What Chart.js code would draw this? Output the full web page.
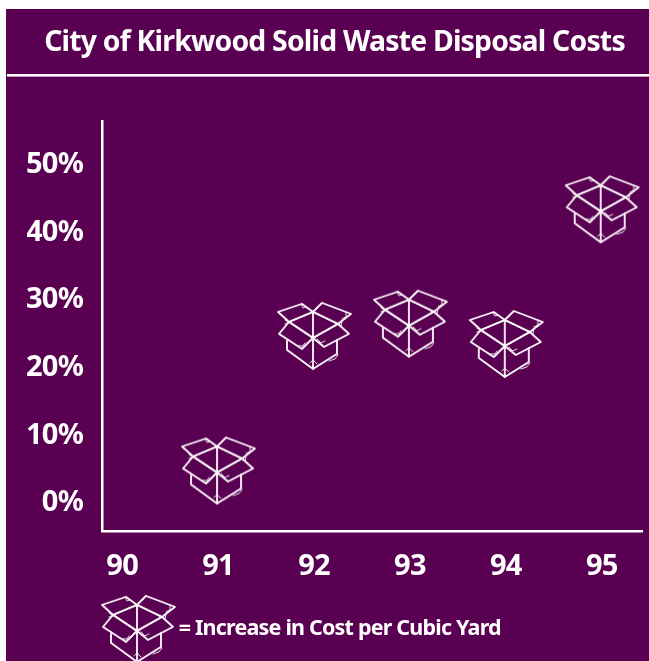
<!DOCTYPE html>
<html><head><meta charset="utf-8">
<script src="https://cdn.jsdelivr.net/npm/chart.js@4/dist/chart.umd.min.js"></script>
<style>
html,body{margin:0;padding:0;background:#fff;overflow:hidden}
#panel{position:absolute;left:6px;top:9px;width:643px;height:652px;background:#5a0052;overflow:hidden}
canvas{display:block}
</style></head><body>
<div id="panel"><canvas id="c" width="657" height="652"></canvas></div>
<script>
const years=[90,91,92,93,94,95];
const costIncrease=[null,4.5,24.4,26.2,23.2,43.1];
const yTicks=[0,10,20,30,40,50];
const titleText='City of Kirkwood Solid Waste Disposal Costs';
const legendText='= Increase in Cost per Cubic Yard';
const FONT='"Noto Sans",sans-serif';

function boxIcon(w,h){
  const cv=document.createElement('canvas');cv.width=w;cv.height=h;
  const g=cv.getContext('2d');const X=x=>(x+1)/100*w,Y=y=>y/90*h;
  g.strokeStyle='#fff';g.lineWidth=1.8;g.lineJoin='round';g.lineCap='round';
  const poly=(p,close)=>{g.beginPath();p.forEach((q,i)=>i?g.lineTo(X(q[0]),Y(q[1])):g.moveTo(X(q[0]),Y(q[1])));if(close)g.closePath();g.stroke();};
  poly([[13,21],[37,13],[48,21],[24,31]],true);
  poly([[48,21],[57,12],[86,23],[73,33]],true);
  poly([[24,31],[14,43],[37,58],[48,47]],true);
  poly([[73,33],[84,43],[59,56],[48,47]],true);
  poly([[24,31],[48,21],[73,33],[48,47]],true);
  poly([[22,50],[22,59],[48,78],[72,63],[72,49]],false);
  poly([[48,21],[48,78]],false);
  g.lineWidth=0.9;
  poly([[36,13],[38,17],[41,16]],false);
  poly([[81,21],[81,26],[77,28]],false);
  poly([[20,29],[24,32],[20,33]],false);
  poly([[73,33],[76,35],[77,31]],false);
  poly([[52,48],[56,52],[60,50]],false);
  poly([[33,55],[38,55],[40,52]],false);
  poly([[45,72],[48,69],[52,73]],false);
  poly([[64,70],[70,68],[73,64]],false);
  return cv;
}
const markIcon=boxIcon(100,90);
const blank=document.createElement('canvas');blank.width=1;blank.height=1;

const rule={id:'rule',
  beforeDraw(c){const g=c.ctx;g.letterSpacing='-0.8px';g.save();g.fillStyle='#fff';g.fillRect(1,65,660,2.6);g.restore();},
  afterDraw(c){const hb=c.legend.legendHitBoxes[0];
    c.ctx.drawImage(markIcon,hb.left+30-50,hb.top+hb.height/2-45);}
};

new Chart(document.getElementById('c'),{
  type:'line',
  data:{datasets:[{label:legendText,
    data:years.map((y,i)=>({x:y,y:costIncrease[i]})),
    showLine:false,pointStyle:markIcon,pointRadius:36,pointHoverRadius:36,
    borderColor:'#fff',backgroundColor:'#fff'}]},
  plugins:[rule],
  options:{
    responsive:false,animation:false,
    layout:{autoPadding:false,padding:{left:21,right:21,top:0,bottom:11.4}},
    scales:{
      x:{type:'linear',min:89.79,max:95.42,
        afterBuildTicks(a){a.ticks=years.map(v=>({value:v}));},
        afterFit(a){a.height=80.7;},
        grid:{display:false,drawTicks:false},border:{color:'#fff',width:2.5},
        ticks:{color:'#fff',padding:18,maxRotation:0,autoSkip:false,font:{family:FONT,size:29,weight:'bold'},callback:v=>String(v)}},
      y:{min:-4.5,max:56.15,
        afterBuildTicks(a){a.ticks=yTicks.map(v=>({value:v}));},
        afterFit(a){a.width=75;},
        grid:{display:false,drawTicks:false},border:{color:'#fff',width:2.5},
        ticks:{color:'#fff',padding:19,labelOffset:2,font:{family:FONT,size:29,weight:'bold'},callback:v=>v+'%'}}
    },
    plugins:{
      title:{display:true,text:titleText,color:'#fff',align:'center',font:{family:FONT,size:28.4,weight:'bold'},padding:{top:17,bottom:60.9}},
      legend:{display:true,position:'bottom',align:'start',fullSize:false,
        labels:{usePointStyle:true,pointStyle:blank,pointStyleWidth:60,color:'#fff',padding:6,font:{family:FONT,size:21.5,weight:'bold'}}},
      tooltip:{enabled:false}
    }
  }
});
</script></body></html>
